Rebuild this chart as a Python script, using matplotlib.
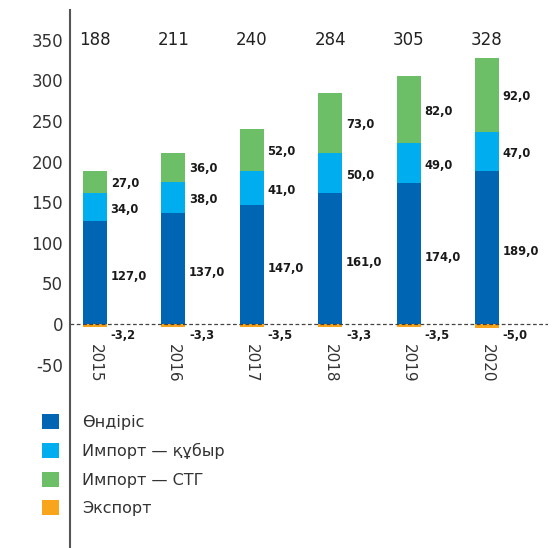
import matplotlib
matplotlib.use("Agg")
import matplotlib.pyplot as plt
import numpy as np

years = ["2015", "2016", "2017", "2018", "2019", "2020"]
production = [127.0, 137.0, 147.0, 161.0, 174.0, 189.0]
import_pipe = [34.0, 38.0, 41.0, 50.0, 49.0, 47.0]
import_lng = [27.0, 36.0, 52.0, 73.0, 82.0, 92.0]
export = [-3.2, -3.3, -3.5, -3.3, -3.5, -5.0]
totals = [188, 211, 240, 284, 305, 328]
labels = ["Өндіріс", "Импорт — құбыр", "Импорт — СТГ", "Экспорт"]
colors = ["#0066B3", "#00AEEF", "#6DBF67", "#F9A51B"]
yticks = [-50, 0, 50, 100, 150, 200, 250, 300, 350]

plt.rcParams['font.family'] = ['DejaVu Sans']

W, H = 557, 548
fig = plt.figure(figsize=(W / 100, H / 100), dpi=100)
ax = fig.add_axes([70 / W, 0, (548 - 70) / W, 1 - 10 / H])

x = np.arange(len(years))
bw = 0.306
p = np.array(production)
ip = np.array(import_pipe)
il = np.array(import_lng)
b1 = ax.bar(x, p, bw, color=colors[0], label=labels[0])
b2 = ax.bar(x, ip, bw, bottom=p, color=colors[1], label=labels[1])
b3 = ax.bar(x, il, bw, bottom=p + ip, color=colors[2], label=labels[2])
b4 = ax.bar(x, export, bw, color=colors[3], label=labels[3])

def fmt(v):
    return f"{v:.1f}".replace(".", ",")

off = 0.2
lab_kw = dict(ha="left", va="center", fontsize=8.3, fontweight="bold", color="#1a1a1a")
for i in range(len(years)):
    ax.text(x[i] + off, p[i] / 2 - 5, fmt(p[i]), **lab_kw)
    ax.text(x[i] + off, p[i] + ip[i] / 2 - 3, fmt(ip[i]), **lab_kw)
    ax.text(x[i] + off, p[i] + ip[i] + il[i] / 2 - 2, fmt(il[i]), **lab_kw)
    ax.text(x[i] + off, -14, fmt(export[i]), **lab_kw)
    ax.text(x[i], 350, str(totals[i]), ha="center", va="center",
            fontsize=12, color="#222222")
    ax.text(x[i], -25, years[i], ha="center", va="top", rotation=270,
            fontsize=11, color="#333333")

ax.axhline(0, color="#444444", lw=0.9, ls=(0, (3, 2)))

ax.set_xlim((70 - 95) / 78.4, (548 - 95) / 78.4)
ax.set_ylim(-(548 - 324) / 0.812, (324 - 10) / 0.812)
ax.set_yticks(yticks)
ax.set_yticklabels([str(t) for t in yticks], fontsize=12, color="#333333")
ax.set_xticks([])
ax.tick_params(axis="y", length=0, pad=5)
for s in ["top", "right", "bottom"]:
    ax.spines[s].set_visible(False)
ax.spines["left"].set_color("#555555")
ax.spines["left"].set_linewidth(1.5)
ax.patch.set_alpha(0)

fig.legend(handles=[b1, b2, b3, b4], labels=labels, loc="upper left",
           bbox_to_anchor=(42 / W, 1 - 414 / H), frameon=False,
           fontsize=11.5, handlelength=1.06, handleheight=1.06,
           handletextpad=1.44, labelspacing=0.8, borderpad=0,
           borderaxespad=0, labelcolor="#333333")

fig.savefig("out.png", dpi=100)
